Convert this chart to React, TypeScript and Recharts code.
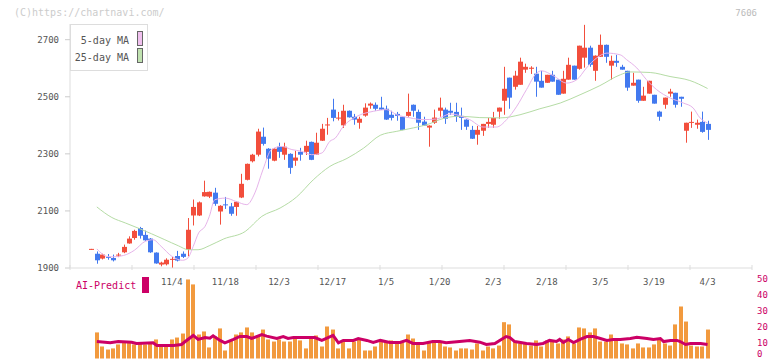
import React from "react";
import { ComposedChart, Bar, Line, XAxis, YAxis } from "recharts";

const MONO = '"DejaVu Sans Mono", monospace';
const RED = "#f24e3c";
const BLUE = "#4279ef";

// daily candles, index 0..115
const openP = [
  1965, 1950, 1933, 1939, 1935, 1944, 1955, 1986, 2005, 2040,
  2016, 2003, 1954, 1912, 1913, 1930, 1942, 1950, 1964, 2084,
  2084, 2151, 2150, 2164, 2098, 2123, 2116, 2114, 2147, 2209,
  2274, 2297, 2360, 2318, 2276, 2325, 2297, 2300, 2276, 2307,
  2307, 2342, 2297, 2346, 2400, 2455, 2424, 2400, 2451, 2430,
  2409, 2434, 2469, 2472, 2462, 2458, 2437, 2440, 2430, 2433,
  2472, 2447, 2413, 2392, 2409, 2451, 2455, 2451, 2447, 2433,
  2420, 2384, 2367, 2381, 2405, 2402, 2448, 2486, 2567, 2535,
  2542, 2595, 2598, 2581, 2556, 2549, 2577, 2560, 2511, 2560,
  2609, 2598, 2637, 2672, 2591, 2640, 2682, 2609, 2626, 2605,
  2591, 2539, 2560, 2486, 2511, 2507, 2448, 2472, 2511, 2514,
  2500, 2381, 2409, 2402, 2412, 2405,
];
const highP = [
  1967, 1958, 1950, 1949, 1947, 1953, 1982, 2011, 2034, 2044,
  2031, 2005, 1955, 1922, 1934, 1939, 1960, 1958, 2075, 2140,
  2133, 2206, 2168, 2181, 2120, 2149, 2128, 2134, 2230, 2266,
  2300, 2388, 2392, 2320, 2320, 2339, 2339, 2302, 2311, 2321,
  2346, 2343, 2374, 2405, 2426, 2493, 2447, 2472, 2452, 2440,
  2430, 2477, 2480, 2480, 2500, 2469, 2451, 2447, 2431, 2511,
  2473, 2455, 2430, 2400, 2455, 2497, 2462, 2479, 2479, 2462,
  2421, 2398, 2398, 2405, 2426, 2447, 2462, 2605, 2567, 2591,
  2637, 2616, 2607, 2605, 2591, 2577, 2591, 2560, 2591, 2637,
  2609, 2679, 2752, 2679, 2645, 2718, 2683, 2644, 2647, 2612,
  2591, 2584, 2560, 2535, 2556, 2507, 2451, 2497, 2528, 2514,
  2500, 2409, 2448, 2420, 2448, 2416,
];
const lowP = [
  1965, 1915, 1930, 1929, 1923, 1938, 1952, 1985, 1999, 2003,
  1995, 1953, 1915, 1906, 1909, 1897, 1923, 1935, 1941, 2049,
  2082, 2150, 2145, 2118, 2052, 2107, 2083, 2083, 2145, 2207,
  2270, 2291, 2329, 2248, 2274, 2286, 2279, 2230, 2258, 2276,
  2296, 2278, 2296, 2345, 2367, 2414, 2417, 2391, 2427, 2402,
  2388, 2430, 2458, 2451, 2454, 2419, 2417, 2416, 2383, 2430,
  2430, 2384, 2398, 2325, 2405, 2430, 2405, 2437, 2412, 2384,
  2384, 2352, 2332, 2363, 2391, 2391, 2423, 2437, 2458, 2525,
  2542, 2584, 2580, 2500, 2532, 2549, 2553, 2507, 2511, 2560,
  2560, 2595, 2602, 2605, 2556, 2640, 2619, 2560, 2605, 2595,
  2521, 2539, 2479, 2486, 2511, 2476, 2416, 2458, 2500, 2462,
  2465, 2339, 2391, 2388, 2374, 2349,
];
const closeP = [
  1967, 1927, 1947, 1937, 1927, 1947, 1974, 2003, 2030, 2013,
  1997, 1955, 1916, 1919, 1929, 1932, 1926, 1939, 2034, 2114,
  2130, 2166, 2167, 2125, 2118, 2121, 2090, 2132, 2195, 2265,
  2297, 2378, 2335, 2283, 2318, 2307, 2325, 2251, 2287, 2297,
  2328, 2279, 2339, 2388, 2403, 2426, 2427, 2451, 2428, 2420,
  2423, 2462, 2476, 2458, 2455, 2420, 2426, 2433, 2384, 2447,
  2451, 2409, 2399, 2399, 2427, 2462, 2423, 2444, 2430, 2426,
  2395, 2353, 2384, 2405, 2412, 2426, 2462, 2528, 2497, 2574,
  2623, 2605, 2602, 2553, 2532, 2577, 2553, 2507, 2563, 2612,
  2560, 2679, 2672, 2612, 2644, 2682, 2640, 2626, 2619, 2595,
  2532, 2549, 2486, 2504, 2556, 2476, 2430, 2497, 2518, 2472,
  2493, 2409, 2412, 2409, 2377, 2384,
];
const volume = [
  0, 16.3, 7.5, 5.6, 6.3, 8.8, 10.6, 10.6, 8.8, 10,
  8.8, 9.4, 11.9, 7.5, 7.5, 11.9, 13.1, 15.6, 49.4, 46.3,
  15, 16.9, 6.9, 13.8, 18.8, 5, 11.3, 15, 16.3, 19.4,
  16.3, 14.4, 18.1, 11.9, 10.6, 11.9, 10.6, 10.6, 13.1, 11.3,
  6.3, 13.1, 14.4, 7.5, 20, 18.1, 6.3, 10.6, 6.3, 10.6,
  11.9, 5, 5, 7.5, 10.5, 10, 11.3, 10, 10, 15,
  12.5, 10, 5, 10, 10.6, 10, 7.5, 6.9, 5, 6.3,
  6.3, 5.6, 9.4, 5, 7.5, 6.3, 8.1, 22.7, 21.3, 10.6,
  9.4, 9.4, 8.1, 11.3, 7.5, 11.3, 10.6, 9.4, 11.9, 13.8,
  9.4, 19.4, 18.8, 16.3, 18.8, 10.6, 10.6, 15, 11.9, 9.4,
  8.8, 6.3, 9.4, 6.9, 6.9, 8.8, 11.9, 9.4, 8.1, 21.3,
  32.5, 23.1, 8.1, 7.5, 7.5, 18.1,
];

// moving averages: [candle index, value]
const ma5 = [
  [1, 1967], [3, 1940], [4, 1939], [6, 1944], [8, 1962], [10, 1993], [11.5, 1999],
  [13, 1976], [15, 1941], [17, 1927], [18, 1935], [19, 1976], [20, 2023], [21.2, 2046],
  [22, 2081], [23, 2139], [25, 2145], [27, 2133], [29, 2122], [30.5, 2163], [32, 2244],
  [33.6, 2315], [35.5, 2326], [37.4, 2315], [39.2, 2309], [41.1, 2297], [43, 2303],
  [44.5, 2344], [45.5, 2355], [47, 2396], [49.5, 2431], [52.6, 2449], [55.1, 2455],
  [57, 2437], [59.5, 2426], [61.9, 2420], [64.4, 2422], [67, 2440], [70.6, 2420],
  [73.1, 2394], [75.6, 2394], [77.5, 2420], [79.4, 2467], [81.2, 2525], [83.1, 2583],
  [84, 2591], [86.2, 2574], [88.7, 2548], [90.6, 2560], [92.4, 2601], [94.3, 2636],
  [96.2, 2653], [98.7, 2647], [99.9, 2630], [101.8, 2601], [103.6, 2560], [105.5, 2525],
  [108, 2496], [110.5, 2478], [112.3, 2461], [113.6, 2426], [115, 2408],
];
const ma25 = [
  [1, 2114], [3.8, 2077], [6.3, 2058], [8.7, 2040], [11.2, 2020], [13.7, 1999],
  [16.2, 1978], [18.1, 1964], [19.9, 1964], [22.1, 1979], [24.7, 2002], [28.7, 2028],
  [31.8, 2081], [35.2, 2110], [38.3, 2149], [41.4, 2209], [44.5, 2256], [47.7, 2284],
  [50.8, 2320], [53.9, 2365], [57, 2379], [60.1, 2391], [63.2, 2406], [65, 2420],
  [68.8, 2432], [72.5, 2427], [76.3, 2426], [80, 2437], [83.7, 2458], [87.5, 2478],
  [91.2, 2507], [94.9, 2539], [98.7, 2577], [100.5, 2587], [104.3, 2585], [108, 2571],
  [111.7, 2557], [115, 2529],
];
const aiPredict = [
  [1, 10.6], [3.5, 9.8], [5, 10.6], [7.5, 10.2], [8.4, 9.4], [11.5, 9.8], [12.2, 8.1],
  [15.3, 8.1], [16.8, 8.75], [17.5, 10.6], [19, 14.4], [19.9, 11.9], [21.2, 13.1],
  [22.1, 12.7], [22.7, 14.2], [24, 11.3], [24.9, 9.8], [26.5, 11.9], [27.7, 13.75],
  [29, 13.75], [29.9, 12.5], [31.8, 15], [32.7, 14], [34.6, 12.5], [35.8, 13.75],
  [36.7, 12.5], [37.7, 13.1], [41.7, 13.1], [43, 11.3], [45.1, 14.4], [46.1, 9.8],
  [47, 11.3], [48.9, 11.3], [49.8, 12.5], [51.4, 11.3], [52.6, 10], [53.9, 11.3],
  [55.7, 10], [57.6, 10], [58.8, 11.3], [60, 9.4], [61.9, 9.4], [63.7, 10.6], [65, 10.6],
  [66.2, 9.8], [68.7, 10.6], [70.6, 11.3], [72.5, 10.2], [73.7, 8.75], [75.3, 9.4],
  [76.5, 11.9], [77.4, 13.75], [78.1, 13.1], [79, 10.6], [81.2, 9.4], [83.1, 8.75],
  [84.3, 9.4], [85.5, 11.3], [86.8, 10.6], [87.4, 11.9], [88.1, 10], [89, 11.9], [90, 10],
  [91.2, 11.9], [92.5, 13.75], [93.7, 13.75], [95, 12.5], [96.2, 11.3], [97.4, 11.9],
  [98.7, 11.9], [100.6, 12.5], [101.8, 13.3], [103.7, 12.5], [104.9, 11.9], [106.2, 12.5],
  [106.8, 10.6], [108.1, 11.3], [109.3, 11.3], [109.9, 10.6], [110.9, 8.75], [111.8, 9.4],
  [113.7, 9.4], [115, 8.75],
];

const dateLabels = ["11/4", "11/18", "12/3", "12/17", "1/5", "1/20", "2/3", "2/18", "3/5", "3/19", "4/3"];
const dateIdx = [15, 25, 35, 45, 55, 65, 75, 85, 95, 105, 115];
const priceTicks = [1900, 2100, 2300, 2500, 2700];
const volTicks = [0, 10, 20, 30, 40, 50];

const X_MIN = -4.01;
const X_MAX = 123.3;
const divTicks = Array.from({ length: 12 }, (_, i) => X_MIN + (i * (X_MAX - X_MIN)) / 11);

const VOL_H = 93;

const candles = openP.map((o, i) => ({
  i,
  open: o,
  high: highP[i],
  low: lowP[i],
  close: closeP[i],
  range: [lowP[i], highP[i]],
  vol: volume[i],
}));
const ma5Data = ma5.map(([i, v]) => ({ i, v }));
const ma25Data = ma25.map(([i, v]) => ({ i, v }));
const aiData = aiPredict.map(([i, v]) => ({ i, v }));

function Candle(props: any) {
  const { x, y, width, height, payload } = props;
  if (x == null || y == null) return null;
  const { open, close, high, low } = payload;
  const color = close >= open ? RED : BLUE;
  const top = height < 0 ? y + height : y;
  const h = Math.abs(height);
  const per = high > low ? h / (high - low) : 0;
  const yO = top + (high - open) * per;
  const yC = top + (high - close) * per;
  const cx = Math.round(x + width / 2) + 0.5;
  const bodyTop = Math.min(yO, yC);
  const bodyH = Math.max(1, Math.abs(yO - yC));
  return (
    <g>
      <line x1={cx} x2={cx} y1={top} y2={top + Math.max(h, 1)} stroke={color} strokeWidth={1} />
      <rect x={cx - 2.5} y={bodyTop} width={5} height={bodyH} fill={color} />
    </g>
  );
}

function VolBar(props: any) {
  const { x, y, width, height } = props;
  if (x == null || y == null || !height) return null;
  const top = height < 0 ? y + height : y;
  const cx = Math.round(x + width / 2);
  return <rect x={cx - 2} y={top} width={4} height={Math.abs(height)} fill="#f29a3e" />;
}

function XTick(props: any) {
  const { x, y, payload } = props;
  const idx = dateIdx.indexOf(payload.value);
  if (idx >= 0) {
    return (
      <text x={x} y={y + 17} textAnchor="middle" fontSize={9} fill="#555" fontFamily={MONO}>
        {dateLabels[idx]}
      </text>
    );
  }
  return <line x1={x} x2={x} y1={y - 3} y2={y + 2} stroke="#ddd" />;
}

// baseline kept inside the svg so the bottom "0" is not clipped
function VolTick(props: any) {
  const { x, y, payload } = props;
  return (
    <text x={x} y={Math.min(y + 3, VOL_H - 4)} textAnchor="start" fontSize={9} fill="#cc0066" fontFamily={MONO}>
      {payload.value}
    </text>
  );
}

export default function App() {
  return (
    <div style={{ position: "absolute", left: 0, top: 0, width: 772, height: 361, background: "#fff", overflow: "hidden" }}>
      <div style={{ position: "absolute", left: 0, top: 0 }}>
        <ComposedChart width={772} height={298} data={candles} margin={{ top: 24, right: 20, bottom: 0, left: 0 }}>
          <XAxis
            type="number"
            dataKey="i"
            domain={[X_MIN, X_MAX]}
            allowDataOverflow
            ticks={[...divTicks, ...dateIdx]}
            interval={0}
            tick={<XTick />}
            tickLine={false}
            tickSize={0}
            tickMargin={0}
            axisLine={{ stroke: "#ddd" }}
            height={30}
          />
          <YAxis
            domain={[1900, 2755]}
            allowDataOverflow
            ticks={priceTicks}
            interval={0}
            width={70}
            tickSize={5}
            tickMargin={6}
            tickLine={{ stroke: "#ccc" }}
            axisLine={{ stroke: "#ddd" }}
            tick={{ fontSize: 9, fill: "#555", fontFamily: MONO }}
          />
          <Line data={ma25Data} dataKey="v" type="monotone" stroke="#b5dca5" strokeWidth={1} dot={false} isAnimationActive={false} />
          <Line data={ma5Data} dataKey="v" type="monotone" stroke="#e6b3ea" strokeWidth={1} dot={false} isAnimationActive={false} />
          <Bar dataKey="range" barSize={5} shape={<Candle />} isAnimationActive={false} />
        </ComposedChart>
      </div>

      <div style={{ position: "absolute", left: 0, top: 268 }}>
        <ComposedChart width={772} height={VOL_H} data={candles} margin={{ top: 10.5, right: 0, bottom: 2.5, left: 70 }}>
          <XAxis type="number" dataKey="i" domain={[X_MIN, X_MAX]} allowDataOverflow hide />
          <YAxis
            orientation="right"
            domain={[0, 50]}
            ticks={volTicks}
            interval={0}
            width={20}
            tickSize={0}
            tickMargin={5}
            axisLine={false}
            tickLine={false}
            tick={<VolTick />}
          />
          <Bar dataKey="vol" barSize={4} shape={<VolBar />} isAnimationActive={false} />
          <Line data={aiData} dataKey="v" type="linear" stroke="#cc0066" strokeWidth={3} dot={false} isAnimationActive={false} />
        </ComposedChart>
      </div>

      <div style={{ position: "absolute", left: 14, top: 7, fontFamily: MONO, fontSize: 10, color: "#ccc", lineHeight: "12px" }}>
        (C)https://chartnavi.com/
      </div>
      <div style={{ position: "absolute", right: 15, top: 7, fontFamily: MONO, fontSize: 9, color: "#bbb", lineHeight: "12px" }}>
        7606
      </div>

      <div style={{ position: "absolute", left: 70, top: 24, width: 78, height: 47, boxSizing: "border-box", border: "1px solid #ddd", background: "#fff" }} />
      <div style={{ position: "absolute", left: 70, top: 35, width: 59, textAlign: "right", fontFamily: MONO, fontSize: 10, color: "#555", lineHeight: "12px" }}>
        5-day MA
      </div>
      <div style={{ position: "absolute", left: 137, top: 31, width: 6, height: 15, boxSizing: "border-box", border: "1px solid #666", background: "#f0c0ee" }} />
      <div style={{ position: "absolute", left: 70, top: 52, width: 59, textAlign: "right", fontFamily: MONO, fontSize: 10, color: "#555", lineHeight: "12px" }}>
        25-day MA
      </div>
      <div style={{ position: "absolute", left: 137, top: 48, width: 6, height: 15, boxSizing: "border-box", border: "1px solid #666", background: "#c0e2b0" }} />

      <div style={{ position: "absolute", left: 76, top: 280, fontFamily: MONO, fontSize: 10, color: "#cc0066", lineHeight: "12px" }}>
        AI-Predict
      </div>
      <div style={{ position: "absolute", left: 142, top: 277, width: 7, height: 16, background: "#cc0066" }} />
    </div>
  );
}
